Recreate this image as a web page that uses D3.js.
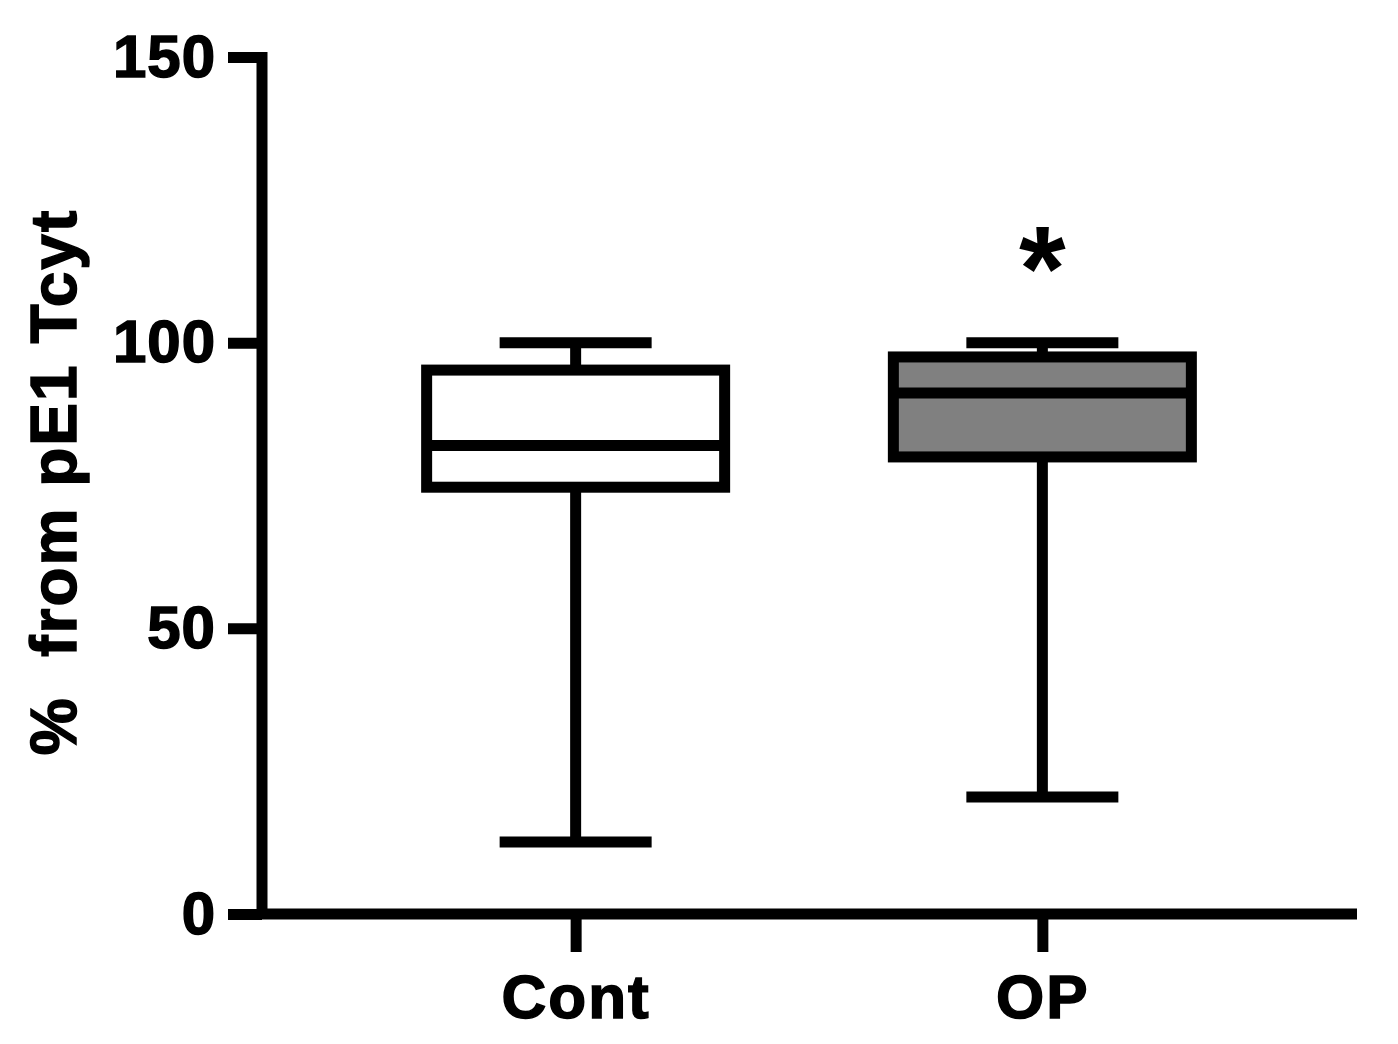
<!DOCTYPE html>
<html><head><meta charset="utf-8">
<script src="https://cdn.jsdelivr.net/npm/d3@7"></script>
<style>body{margin:0;background:#fff}</style>
</head><body><svg id="c" width="1398" height="1044"></svg>
<script>
var groups = ["Cont", "OP"];
var mins = [12.6, 20.5];
var q1s = [74.7, 80];
var medians = [82, 91.2];
var q3s = [95.2, 97.5];
var maxs = [100, 100];
var fills = ["#ffffff", "#808080"];
var yTicks = [0, 50, 100, 150];

var svg = d3.select("#c");
var y = d3.scaleLinear().domain([0, 150]).range([914, 57]);
var x = d3.scalePoint().domain(groups).range([262, 1356]).padding(0.672);
var font = "Arial, 'Liberation Sans', sans-serif";
var lw = 11;

var yAx = svg.append("g").attr("transform", "translate(262,0)")
  .call(d3.axisLeft(y).tickValues(yTicks).tickSize(34).tickPadding(12).tickSizeOuter(0));
var xAx = svg.append("g").attr("transform", "translate(0,914)")
  .call(d3.axisBottom(x).tickSize(38).tickPadding(22).tickSizeOuter(0));
[yAx, xAx].forEach(function(a){
  a.select(".domain").attr("stroke", "#000").attr("stroke-width", lw);
  a.selectAll(".tick line").attr("stroke", "#000").attr("stroke-width", lw);
  a.selectAll("text").attr("font-family", font).attr("font-weight", "bold")
    .attr("fill", "#000").attr("stroke", "#000").attr("stroke-width", 1.5);
});
yAx.selectAll("text").attr("font-size", 60).attr("letter-spacing", 1);
xAx.selectAll("text").attr("font-size", 62).attr("letter-spacing", 2);
yAx.select(".domain").attr("d", "M0,52V914");
xAx.select(".domain").attr("d", "M257,0H1357");

var data = groups.map(function(g, i){
  return {g: g, min: mins[i], q1: q1s[i], med: medians[i], q3: q3s[i], max: maxs[i], fill: fills[i]};
});
var boxW = 298, capW = 152;
var gg = svg.selectAll(".bx").data(data).enter().append("g");
gg.append("line").attr("x1", function(d){return x(d.g);}).attr("x2", function(d){return x(d.g);})
  .attr("y1", function(d){return y(d.min);}).attr("y2", function(d){return y(d.max);})
  .attr("stroke", "#000").attr("stroke-width", lw);
["min", "max"].forEach(function(k){
  gg.append("line").attr("x1", function(d){return x(d.g) - capW/2;}).attr("x2", function(d){return x(d.g) + capW/2;})
    .attr("y1", function(d){return y(d[k]);}).attr("y2", function(d){return y(d[k]);})
    .attr("stroke", "#000").attr("stroke-width", lw);
});
gg.append("rect").attr("x", function(d){return x(d.g) - boxW/2;}).attr("width", boxW)
  .attr("y", function(d){return y(d.q3);}).attr("height", function(d){return y(d.q1) - y(d.q3);})
  .attr("fill", function(d){return d.fill;}).attr("stroke", "#000").attr("stroke-width", lw);
gg.append("line").attr("x1", function(d){return x(d.g) - boxW/2;}).attr("x2", function(d){return x(d.g) + boxW/2;})
  .attr("y1", function(d){return y(d.med);}).attr("y2", function(d){return y(d.med);})
  .attr("stroke", "#000").attr("stroke-width", lw);

svg.append("text").attr("x", x("OP")).attr("y", 310).attr("text-anchor", "middle")
  .attr("font-family", font).attr("font-weight", "bold").attr("font-size", 120).text("*");

svg.append("text").attr("transform", "translate(76,482) rotate(-90)").attr("text-anchor", "middle")
  .attr("font-family", font).attr("font-weight", "bold").attr("font-size", 64)
  .attr("stroke", "#000").attr("stroke-width", 1.5).attr("letter-spacing", 2)
  .attr("xml:space", "preserve").text("%  from pE1 Tcyt");
</script></body></html>
